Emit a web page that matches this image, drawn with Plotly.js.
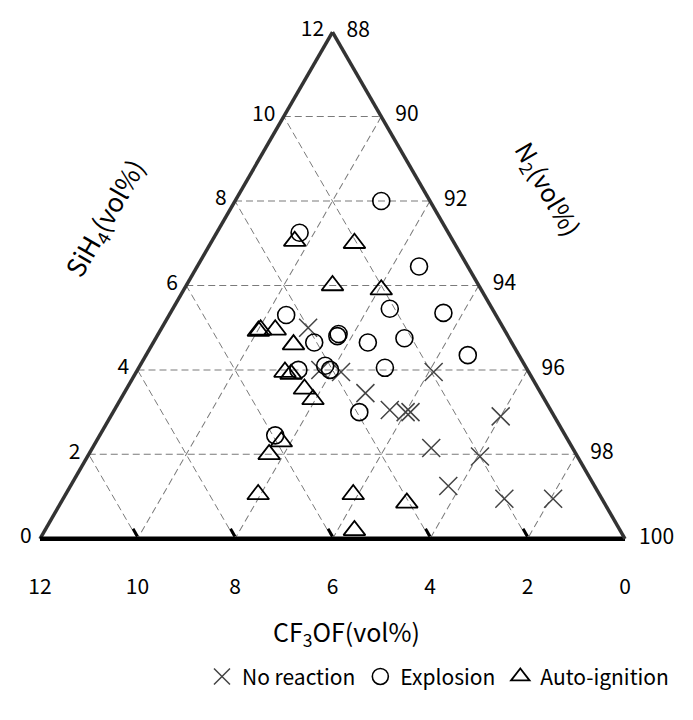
<!DOCTYPE html>
<html>
<head>
<meta charset="utf-8">
<script src="https://cdn.plot.ly/plotly-3.0.1.min.js"></script>
<style>html,body{margin:0;padding:0;background:#fff;}#chart{width:693px;height:720px;}</style>
</head>
<body>
<div id="chart"></div>
<script>
// SiH4 (vol%), CF3OF (vol%); N2 = balance
const noReactionSiH4  = [5.0, 4.0, 3.95, 3.95, 3.45, 3.05, 3.0, 3.0, 2.9, 2.15, 1.95, 1.25, 0.95, 0.95];
const noReactionCF3OF = [4.0, 4.25, 3.85, 1.95, 3.6, 3.3, 3.0, 2.9, 1.1, 2.9, 2.0, 3.0, 2.0, 1.0];

const explosionSiH4  = [8.0, 7.25, 6.45, 5.45, 5.35, 4.75, 4.35, 4.65, 4.05, 3.0, 5.3, 4.65, 4.85, 4.8, 4.0, 4.1, 4.0, 2.45];
const explosionCF3OF = [1.0, 3.05, 1.0, 2.1, 1.05, 2.15, 1.05, 2.95, 2.9, 3.95, 4.3, 4.05, 3.45, 3.5, 4.7, 4.1, 4.05, 5.95];

const autoIgnSiH4  = [7.05, 7.0, 6.0, 5.9, 4.95, 4.92, 4.95, 4.6, 3.95, 3.9, 3.55, 3.3, 2.3, 2.0, 1.05, 1.05, 0.85, 0.2];
const autoIgnCF3OF = [3.25, 2.05, 3.0, 2.05, 5.0, 5.06, 4.7, 4.5, 5.0, 4.9, 4.8, 4.75, 5.9, 6.3, 7.0, 5.05, 4.05, 5.45];

const seriesNames = ['No reaction', 'Explosion', 'Auto-ignition'];
const tickStep = 2;

const FONT = '"Noto Sans CJK JP", "Liberation Sans", sans-serif';
const DOMAIN = {x: [0.0577, 0.9019], y: [0.2514, 0.9556]};

function n2(si, cf) { return si.map((v, i) => +(100 - v - cf[i]).toFixed(3)); }

const traces = [
  {
    type: 'scatterternary', mode: 'markers', name: seriesNames[0],
    a: noReactionSiH4, b: noReactionCF3OF, c: n2(noReactionSiH4, noReactionCF3OF),
    marker: {symbol: 'x-thin-open', size: 18, color: '#444', line: {color: '#444', width: 1.5}}
  },
  {
    type: 'scatterternary', mode: 'markers', name: seriesNames[1],
    a: explosionSiH4, b: explosionCF3OF, c: n2(explosionSiH4, explosionCF3OF),
    marker: {symbol: 'circle-open', size: 17, color: '#000', line: {color: '#000', width: 1.6}}
  },
  {
    type: 'scatterternary', mode: 'markers', name: seriesNames[2],
    a: autoIgnSiH4, b: autoIgnCF3OF, c: n2(autoIgnSiH4, autoIgnCF3OF),
    marker: {symbol: 'triangle-up-open', size: 19, color: '#000', line: {color: '#000', width: 1.8}}
  }
];

function axis(min, lineColor, lineWidth, extra) {
  return Object.assign({
    min: min, tickmode: 'linear', tick0: 0, dtick: tickStep,
    showgrid: true, gridcolor: '#7a7a7a', gridwidth: 1, griddash: '7px,4px',
    showline: true, linecolor: lineColor, linewidth: lineWidth,
    ticks: 'outside', tickcolor: 'rgba(0,0,0,0)', ticklen: 0,
    tickfont: {family: FONT, size: 21, color: '#000'},
    title: {text: ''}
  }, extra || {});
}

const layout = {
  width: 693, height: 720,
  margin: {l: 0, r: 0, t: 0, b: 0},
  paper_bgcolor: '#fff',
  font: {family: FONT, color: '#000'},
  showlegend: true,
  legend: {
    orientation: 'h', x: 0.632, xanchor: 'center', y: 0.06, yanchor: 'middle',
    font: {family: FONT, size: 21, color: '#000'}, itemwidth: 30, tracegroupgap: 0,
    traceorder: 'normal'
  },
  ternary: {
    sum: 100,
    domain: DOMAIN,
    bgcolor: '#fff',
    aaxis: axis(0, '#333', 3.5, {ticklen: 4}),
    baxis: axis(0, '#000', 4.5, {ticks: 'inside', ticklen: 9, tickwidth: 3, tickcolor: '#000',
                                 tickprefix: '<br>'}),
    caxis: axis(88, '#333', 3.5, {ticks: '', tickprefix: '\u2002'})
  },
  annotations: [
    {text: 'SiH<sub>4</sub>(vol%)', xref: 'paper', yref: 'paper', x: 105/693, y: 1 - 218/720,
     xanchor: 'center', yanchor: 'middle',
     showarrow: false, textangle: -60, font: {family: FONT, size: 26, color: '#000'}},
    {text: 'N<sub>2</sub>(vol%)', xref: 'paper', yref: 'paper', x: 547/693, y: 1 - 189/720,
     xanchor: 'center', yanchor: 'middle',
     showarrow: false, textangle: 60, font: {family: FONT, size: 25, color: '#000'}},
    {text: 'CF<sub>3</sub>OF(vol%)', xref: 'paper', yref: 'paper', x: 347/693, y: 1 - 632/720,
     xanchor: 'center', yanchor: 'middle',
     showarrow: false, font: {family: FONT, size: 25, color: '#000'}}
  ]
};

Plotly.newPlot('chart', traces, layout, {displayModeBar: false, staticPlot: true});
</script>
</body>
</html>
